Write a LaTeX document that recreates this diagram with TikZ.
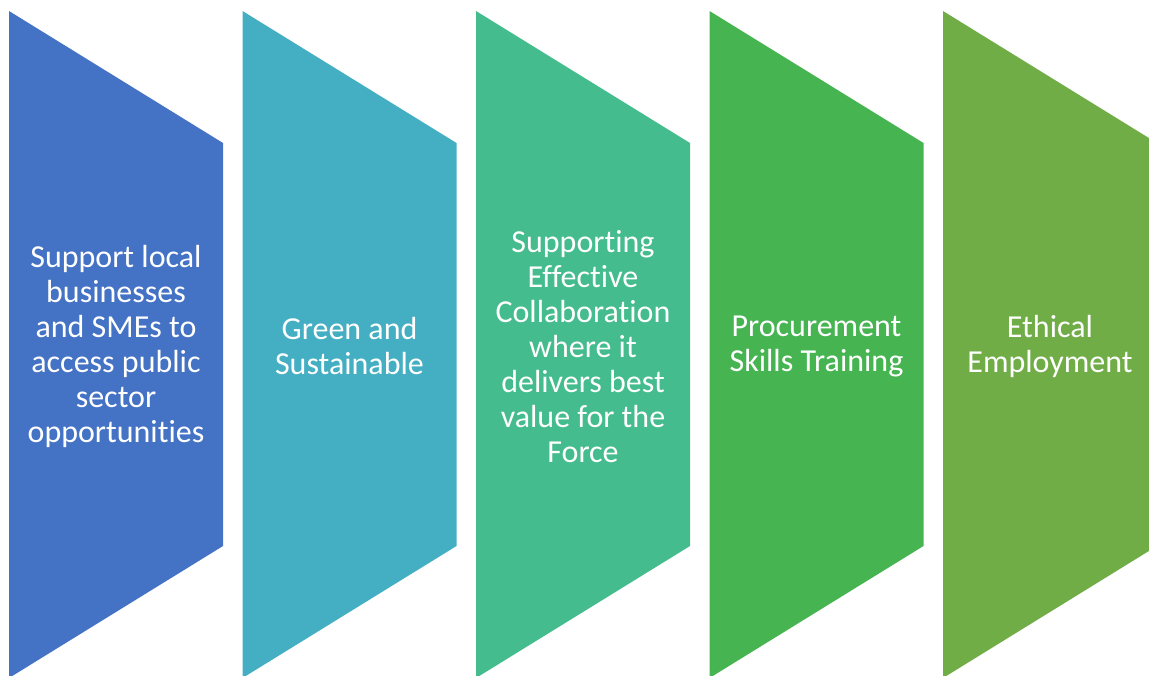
\documentclass[tikz,border=0pt]{standalone}
\usepackage{fontspec}
\setmainfont{Carlito}[RawFeature={-liga}]
\definecolor{c1}{RGB}{68,114,196}
\definecolor{c2}{RGB}{68,174,194}
\definecolor{c3}{RGB}{68,188,141}
\definecolor{c4}{RGB}{71,180,82}
\definecolor{c5}{RGB}{112,173,71}
\tikzset{
  lbl/.style={text=white, align=center, font=\fontsize{32}{35}\selectfont, inner sep=0pt}
}
\begin{document}
\begin{tikzpicture}[x=1pt,y=-1pt]
\useasboundingbox (0,0) rectangle (1149,675);
\clip (0,0) rectangle (1149,675);
\foreach \x/\c in {9/c1,242.5/c2,476/c3,709.5/c4,943/c5}{
  \fill[\c] (\x,11) -- (\x+214,143) -- (\x+214,546) -- (\x,678) -- cycle;
}
\node[lbl] (t1) at (116,346.5) {Support local\\businesses\\and SMEs to\\access public\\sector\\opportunities};
\node[lbl] (t2) at (349.5,346.5) {Green and\\Sustainable};
\node[lbl] (t3) at (583,346.5) {Supporting\\Effective\\Collaboration\\where it\\delivers best\\value for the\\Force};
\node[lbl] (t4) at (816.5,346.5) {Procurement\\Skills Training};
\node[lbl] (t5) at (1050,346.5) {Ethical\\Employment};
\end{tikzpicture}
\end{document}
